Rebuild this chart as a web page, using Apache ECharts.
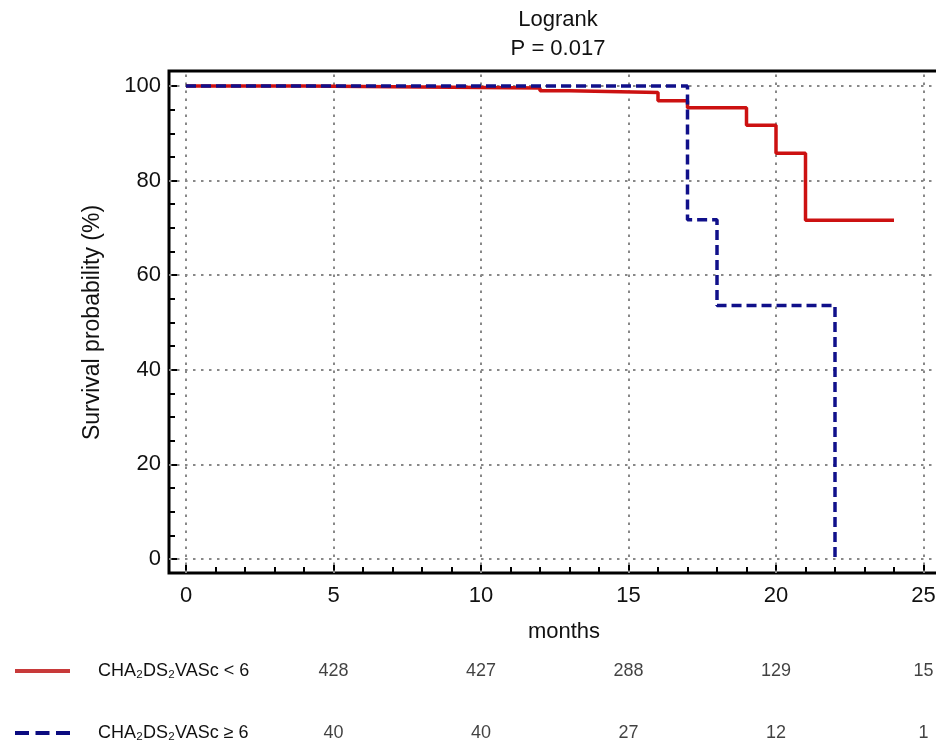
<!DOCTYPE html>
<html>
<head>
<meta charset="utf-8">
<script src="https://cdn.jsdelivr.net/npm/echarts@6/dist/echarts.min.js"></script>
<style>
html,body{margin:0;padding:0;background:#fff;}
#chart{width:936px;height:742px;}
</style>
</head>
<body>
<div id="chart"></div>
<script>
// ---- data ----
var seriesNames = ['CHA\u2082DS\u2082VASc < 6', 'CHA\u2082DS\u2082VASc \u2265 6'];
var lowTimes = [0, 4, 12, 13, 16, 17, 19, 20, 21, 24];
var lowSurv  = [100, 99.6, 99.0, 98.6, 96.9, 95.4, 91.7, 85.8, 71.6, 71.6];
var highTimes = [0, 17, 18, 22];
var highSurv  = [100, 71.7, 53.6, 0];
var riskTimes = [5, 10, 15, 20, 25];
var riskLow  = [428, 427, 288, 129, 15];
var riskHigh = [40, 40, 27, 12, 1];
var xTicks = [0, 5, 10, 15, 20, 25];
var yTicks = [0, 20, 40, 60, 80, 100];
var titleText = 'Logrank\nP = 0.017';
var xName = 'months';
var yName = 'Survival probability (%)';

// ---- layout constants ----
var FONT = 'Liberation Sans, Arial, sans-serif';
var pxX = 29.5, pxY = 4.73;
var boxLeft = 169, boxTop = 71, boxBottom = 573, boxRight = 942;
var x0px = 186, y0px = 559;
var xmin = -(x0px - boxLeft) / pxX, xmax = (boxRight - x0px) / pxX;
var ymin = -(boxBottom - y0px) / pxY, ymax = (y0px - boxTop) / pxY;
var RED = '#cc1111', BLUE = '#10108a';

function zip(a, b) { return a.map(function (v, i) { return [v, b[i]]; }); }

var chart = echarts.init(document.getElementById('chart'), null, {renderer: 'canvas'});
var option = {
  animation: false,
  backgroundColor: '#fff',
  textStyle: {fontFamily: FONT},
  title: {
    text: titleText, left: 553, top: 0, textAlign: 'center',
    textStyle: {fontFamily: FONT, fontSize: 22, fontWeight: 'normal', color: '#111', lineHeight: 29}
  },
  grid: [
    {left: boxLeft, top: boxTop, width: boxRight - boxLeft, height: boxBottom - boxTop,
     outerBoundsMode: 'none', containLabel: false,
     show: true, borderColor: '#000', borderWidth: 3, backgroundColor: 'transparent'},
    {left: boxLeft, top: y0px - 100 * pxY, width: 100, height: 100 * pxY,
     outerBoundsMode: 'none', containLabel: false},
    {left: x0px, top: 100, width: boxRight - x0px, height: boxBottom - 100,
     outerBoundsMode: 'none', containLabel: false},
    {left: boxLeft, top: 671, width: boxRight - boxLeft, height: 62,
     outerBoundsMode: 'none', containLabel: false}
  ],
  xAxis: [
    {gridIndex: 0, type: 'value', min: xmin, max: xmax, show: false},
    {gridIndex: 1, type: 'value', min: 0, max: 1, show: false},
    {gridIndex: 2, type: 'value', min: 0, max: xmax, interval: 5,
     axisLine: {show: false, onZero: false},
     axisTick: {show: true, inside: true, length: 8, lineStyle: {color: '#000', width: 2}},
     minorTick: {show: true, splitNumber: 5, length: 6, lineStyle: {color: '#000', width: 2}},
     axisLabel: {fontFamily: FONT, fontSize: 22, color: '#111', margin: 12, customValues: xTicks},
     splitLine: {show: false},
     name: xName, nameLocation: 'middle', nameGap: 48,
     nameTextStyle: {fontFamily: FONT, fontSize: 22, color: '#111'}},
    {gridIndex: 3, type: 'value', min: xmin, max: xmax, show: false}
  ],
  yAxis: [
    {gridIndex: 0, type: 'value', min: ymin, max: ymax, show: false},
    {gridIndex: 1, type: 'value', min: 0, max: 100, interval: 20,
     axisLine: {show: false, onZero: false},
     axisTick: {show: true, inside: true, length: 8, lineStyle: {color: '#000', width: 2}},
     minorTick: {show: true, splitNumber: 4, length: 6, lineStyle: {color: '#000', width: 2}},
     axisLabel: {fontFamily: FONT, fontSize: 22, color: '#111', margin: 8},
     splitLine: {show: false},
     name: yName, nameLocation: 'middle', nameGap: 65, nameRotate: 90,
     nameTextStyle: {fontFamily: FONT, fontSize: 23, color: '#111'}},
    {gridIndex: 2, type: 'value', min: 0, max: 1, show: false},
    {gridIndex: 3, type: 'value', min: 0, max: 1, inverse: true, show: false}
  ],
  graphic: [
    {type: 'line', shape: {x1: 15, y1: 671, x2: 70, y2: 671}, silent: true,
     style: {stroke: '#c83a3a', lineWidth: 4}},
    {type: 'line', shape: {x1: 15, y1: 733, x2: 70, y2: 733}, silent: true,
     style: {stroke: '#0b0b80', lineWidth: 4, lineDash: [14, 6.5]}},
    {type: 'text', x: 98, y: 671, silent: true,
     style: {text: seriesNames[0], font: '18px ' + FONT, fill: '#111', verticalAlign: 'middle', align: 'left'}},
    {type: 'text', x: 98, y: 733, silent: true,
     style: {text: seriesNames[1], font: '18px ' + FONT, fill: '#111', verticalAlign: 'middle', align: 'left'}}
  ],
  series: [
    {
      type: 'line', name: 'grid', xAxisIndex: 0, yAxisIndex: 0, data: [], z: 1, silent: true,
      markLine: {
        silent: true, symbol: ['none', 'none'], z: 1, label: {show: false},
        lineStyle: {color: '#888', width: 2, type: [2.5, 5.5]},
        data: xTicks.map(function (v) { return {xAxis: v}; })
          .concat(yTicks.map(function (v) { return {yAxis: v}; }))
      }
    },
    {type: 'line', name: 'yticks', xAxisIndex: 1, yAxisIndex: 1, data: [], silent: true},
    {type: 'line', name: 'xticks', xAxisIndex: 2, yAxisIndex: 2, data: [], silent: true},
    {
      type: 'line', name: seriesNames[0], xAxisIndex: 0, yAxisIndex: 0, step: 'end',
      symbol: 'none', showSymbol: false, z: 3,
      lineStyle: {color: RED, width: 3.5}, itemStyle: {color: RED},
      data: zip(lowTimes, lowSurv)
    },
    {
      type: 'line', name: seriesNames[1], xAxisIndex: 0, yAxisIndex: 0, step: 'end',
      symbol: 'none', showSymbol: false, z: 4,
      lineStyle: {color: BLUE, width: 3.5, type: [10, 5]}, itemStyle: {color: BLUE},
      data: zip(highTimes, highSurv)
    },
    {
      type: 'scatter', name: 'riskLow', xAxisIndex: 3, yAxisIndex: 3, symbolSize: 0.01,
      itemStyle: {color: 'transparent'}, silent: true,
      label: {show: true, position: 'inside', fontFamily: FONT, fontSize: 18, color: '#111',
        formatter: function (p) { return p.value[2]; }},
      data: riskTimes.map(function (t, i) { return [t, 0, riskLow[i]]; })
    },
    {
      type: 'scatter', name: 'riskHigh', xAxisIndex: 3, yAxisIndex: 3, symbolSize: 0.01,
      itemStyle: {color: 'transparent'}, silent: true,
      label: {show: true, position: 'inside', fontFamily: FONT, fontSize: 18, color: '#111',
        formatter: function (p) { return p.value[2]; }},
      data: riskTimes.map(function (t, i) { return [t, 1, riskHigh[i]]; })
    }
  ]
};
chart.setOption(option);
</script>
</body>
</html>
